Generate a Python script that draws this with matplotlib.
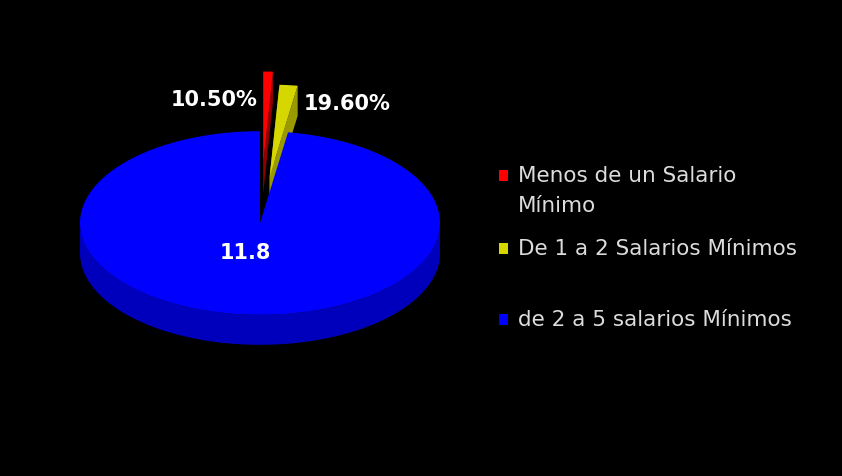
import numpy as np
import matplotlib.pyplot as plt
from matplotlib.patches import Polygon, Rectangle

# data
labels = ['Menos de un Salario\nMínimo', 'De 1 a 2 Salarios Mínimos', 'de 2 a 5 salarios Mínimos']
values = [0.105, 0.196, 11.8]
value_texts = ['10.50%', '19.60%', '11.8']
colors = ['#ff0000', '#d6d600', '#0000ff']
side_colors = ['#900000', '#9a9a00', '#0000bc']

# pie geometry (pixels)
cx, cy = 260, 224
R = 180
k = 0.51          # vertical squash of the tilted pie
depth = 30
explode = [0.65, 0.51, 0.0]

fig = plt.figure(figsize=(8.42, 4.77), dpi=100)
fig.patch.set_facecolor('black')
ax = fig.add_axes([0, 0, 1, 1])
ax.set_xlim(0, 842)
ax.set_ylim(477, 0)
ax.axis('off')
ax.set_facecolor('black')


def pt(theta, r, ox=0, oy=0, dz=0):
    return (cx + ox + r * np.cos(theta), cy + oy - k * r * np.sin(theta) + dz)


total = sum(values)
start = np.pi / 2
for i, v in enumerate(values):
    sweep = 2 * np.pi * v / total
    t0, t1 = start - sweep, start
    mid = (t0 + t1) / 2
    e = explode[i] * R
    ox, oy = e * np.cos(mid), -k * e * np.sin(mid)
    ts = np.linspace(t1, t0, 400)

    # side (front part of the rim)
    lo, hi = max(t0, -np.pi), min(t1, 0)
    if lo < hi:
        ss = np.linspace(lo, hi, 300)
        top = [pt(t, R, ox, oy) for t in ss]
        bot = [pt(t, R, ox, oy, depth) for t in ss[::-1]]
        ax.add_patch(Polygon(top + bot, closed=True, fc=side_colors[i], ec='none'))
    # inner cut faces of exploded slices
    if explode[i] > 0:
        for t in (t0, t1):
            a = pt(0, 0, ox, oy)
            b = pt(t, R, ox, oy)
            face = [a, b, (b[0], b[1] + depth), (a[0], a[1] + depth)]
            ax.add_patch(Polygon(face, closed=True, fc=side_colors[i], ec='none'))

    poly = [pt(0, 0, ox, oy)] + [pt(t, R, ox, oy) for t in ts]
    ax.add_patch(Polygon(poly, closed=True, fc=colors[i], ec='none'))
    start = t0

# value labels
txt = dict(color='white', fontsize=15, fontweight='bold', ha='center', va='center',
           family='DejaVu Sans')
ax.text(214, 100, value_texts[0], **txt)
ax.text(347, 104, value_texts[1], **txt)
ax.text(245, 253, value_texts[2], **txt)

# legend
leg_y = [177, 250, 321]
for lab, c, y in zip(labels, colors, leg_y):
    ax.add_patch(Rectangle((499, y - 6), 9, 11, fc=c, ec='none'))
    ax.text(518, y - 11, lab, color='#dcdcdc', fontsize=15.5, ha='left', va='top',
            linespacing=1.6, family='DejaVu Sans')

fig.savefig('out.png', dpi=100, facecolor='black')
